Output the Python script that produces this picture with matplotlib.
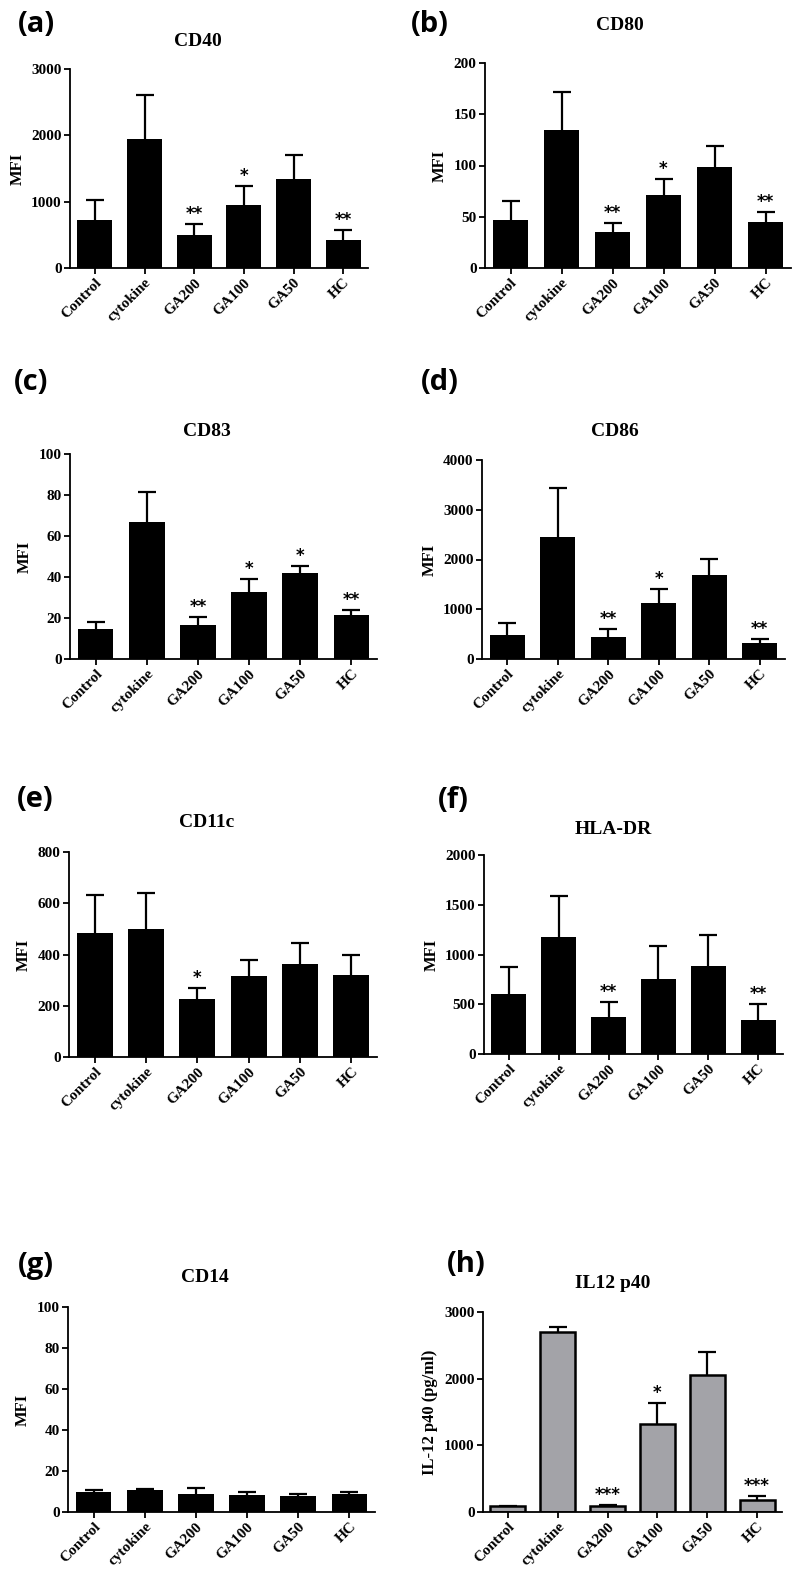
import matplotlib
matplotlib.use("Agg")
import matplotlib.pyplot as plt

groups = ["Control", "cytokine", "GA200", "GA100", "GA50", "HC"]

cd40_mean = [730, 1945, 500, 950, 1345, 420]
cd40_err = [290, 670, 170, 290, 360, 150]
cd40_sig = ["", "", "**", "*", "", "**"]

cd80_mean = [46.5, 135, 35.5, 71.5, 99, 45]
cd80_err = [18.5, 37, 8.5, 15.5, 20, 10]
cd80_sig = ["", "", "**", "*", "", "**"]

cd83_mean = [14.7, 66.8, 16.6, 32.7, 41.9, 21.7]
cd83_err = [3.2, 14.8, 3.8, 6.3, 3.4, 2.1]
cd83_sig = ["", "", "**", "*", "*", "**"]

cd86_mean = [476, 2456, 443, 1128, 1691, 322]
cd86_err = [249, 974, 161, 288, 329, 81]
cd86_sig = ["", "", "**", "*", "", "**"]

cd11c_mean = [483, 499, 225, 316, 362, 320]
cd11c_err = [150, 141, 44, 63, 84, 79]
cd11c_sig = ["", "", "*", "", "", ""]

hladr_mean = [607, 1178, 369, 755, 889, 339]
hladr_err = [269, 406, 151, 332, 306, 161]
hladr_sig = ["", "", "**", "", "", "**"]

cd14_mean = [10.0, 10.5, 8.9, 8.3, 7.6, 8.9]
cd14_err = [0.5, 0.7, 2.6, 1.4, 1.0, 1.0]
cd14_sig = ["", "", "", "", "", ""]

il12_mean = [85, 2700, 95, 1320, 2060, 185]
il12_err = [10, 80, 8, 310, 340, 50]
il12_sig = ["", "", "***", "*", "", "***"]

W, H = 798, 1577
fig = plt.figure(figsize=(W / 100, H / 100), dpi=100)

serif = "Liberation Serif"


def add_panel(box, mean, err, sig, ymax, step, title, title_xy, letter, letter_xy,
              ylabel="MFI", color="black", edge=0.0):
    left, right, top, bottom = box
    ax = fig.add_axes([left / W, 1 - bottom / H, (right - left) / W, (bottom - top) / H])
    x = list(range(len(groups)))
    tops = [m + e for m, e in zip(mean, err)]
    ax.bar(x, mean, width=0.7, color=color, edgecolor="black", linewidth=edge, zorder=2)
    # upper-only error bars: stem plus a single cap at the top
    ax.vlines(x, mean, tops, color="black", linewidth=1.6, zorder=1)
    ax.plot(x, tops, linestyle="none", marker="_", markersize=13,
            markeredgewidth=1.6, color="black", zorder=1)
    for i, s in enumerate(sig):
        if s:
            ax.text(i, tops[i] + ymax * 0.005, s, ha="center", va="bottom",
                    fontsize=12, fontweight="bold", family="DejaVu Sans")
    ax.set_xlim(-0.5, len(groups) - 0.5)
    ax.set_ylim(0, ymax)
    ax.set_yticks(range(0, int(ymax) + 1, step))
    ax.set_xticks(x)
    ax.set_xticklabels(groups, rotation=45, ha="right", rotation_mode="anchor")
    for lab in ax.get_xticklabels() + ax.get_yticklabels():
        lab.set_family(serif)
        lab.set_fontweight("bold")
        lab.set_fontsize(11)
    ax.spines["top"].set_visible(False)
    ax.spines["right"].set_visible(False)
    ax.spines["left"].set_linewidth(1.3)
    ax.spines["bottom"].set_linewidth(1.3)
    ax.tick_params(axis="both", width=1.3, length=4, pad=2)
    ax.set_ylabel(ylabel, family=serif, fontweight="bold", fontsize=12, labelpad=4)
    fig.text(title_xy[0] / W, 1 - title_xy[1] / H, title, ha="center", va="center",
             family=serif, fontweight="bold", fontsize=14)
    fig.text(letter_xy[0] / W, 1 - letter_xy[1] / H, letter, ha="center", va="center",
             family="Open Sans", fontweight="bold", fontsize=21)
    return ax


add_panel((70, 368, 69, 268), cd40_mean, cd40_err, cd40_sig, 3000, 1000,
          "CD40", (198, 42), "(a)", (36, 25))
add_panel((485, 791, 63, 268), cd80_mean, cd80_err, cd80_sig, 200, 50,
          "CD80", (620, 25), "(b)", (430, 25))
add_panel((70, 377, 454, 659), cd83_mean, cd83_err, cd83_sig, 100, 20,
          "CD83", (207, 432), "(c)", (31, 383))
add_panel((482, 785, 460, 659), cd86_mean, cd86_err, cd86_sig, 4000, 1000,
          "CD86", (615, 432), "(d)", (440, 383))
add_panel((69, 377, 852, 1057), cd11c_mean, cd11c_err, cd11c_sig, 800, 200,
          "CD11c", (207, 823), "(e)", (35, 800))
add_panel((484, 783, 855, 1054), hladr_mean, hladr_err, hladr_sig, 2000, 500,
          "HLA-DR", (613, 829), "(f)", (453, 801))
add_panel((68, 375, 1307, 1512), cd14_mean, cd14_err, cd14_sig, 100, 20,
          "CD14", (205, 1277), "(g)", (36, 1265))
add_panel((483, 782, 1312, 1512), il12_mean, il12_err, il12_sig, 3000, 1000,
          "IL12 p40", (613, 1283), "(h)", (466, 1264),
          ylabel="IL-12 p40 (pg/ml)", color="#a3a3a8", edge=1.8)

fig.savefig("out.png", dpi=100)
